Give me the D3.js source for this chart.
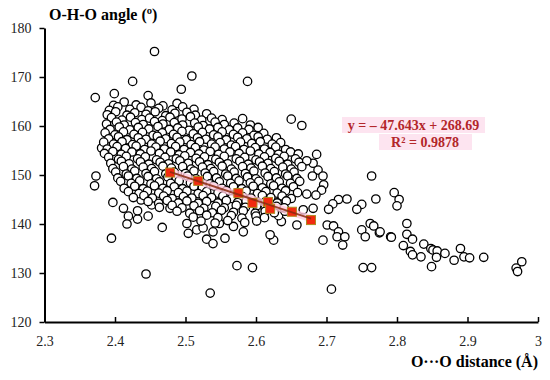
<!DOCTYPE html>
<html>
<head>
<meta charset="utf-8">
<script src="https://cdn.jsdelivr.net/npm/d3@7"></script>
<style>
  body { margin: 0; background: #fff; }
  svg { display: block; font-family: "Liberation Serif", "Times New Roman", serif; }
</style>
</head>
<body>
<svg class="chart" width="550" height="380"></svg>
<script>
// axis ticks
var xTicks = [2.3, 2.4, 2.5, 2.6, 2.7, 2.8, 2.9, 3];
var yTicks = [120, 130, 140, 150, 160, 170, 180];

// scattered points: [O...O distance, O-H-O angle]
var outliers = [
  [2.456,175.2],[2.509,170.2],[2.425,169.1],[2.588,169.1],[2.494,167.5],[2.372,165.8],[2.399,166.6],[2.447,166.2],
  [2.650,161.4],[2.665,160.1],[2.686,154.2],[2.681,152.4],[2.688,151],[2.680,149.8],[2.695,149.8],[2.696,148],[2.693,146.9],[2.685,145.9],[2.672,146.1],
  [2.764,149.8],[2.770,145.1],[2.717,145],[2.729,145.1],[2.709,144.1],[2.703,143],[2.750,144],[2.743,143],[2.681,143.2],[2.667,142.9],
  [2.701,139.8],[2.710,139.6],[2.717,138.4],[2.715,137.4],[2.726,137.4],[2.723,135.7],[2.695,136.7],[2.750,138.8],[2.755,137.4],[2.762,140.1],[2.767,139.6],[2.775,138.2],[2.791,137.4],
  [2.796,146.4],[2.803,145],[2.800,143.7],[2.814,140.1],[2.776,138.4],[2.814,137.9],[2.792,137.3],[2.822,136.9],[2.809,135.6],[2.838,135.9],[2.819,134.4],[2.822,133.7],[2.834,133.3],
  [2.848,135],[2.851,134.7],[2.857,134.5],[2.868,134],[2.856,133.2],[2.849,131.3],[2.890,135],[2.881,132.6],[2.895,133.3],[2.903,133.1],[2.923,133.2],[2.977,132.3],[2.969,131],[2.971,130.3],
  [2.752,131.1],[2.764,131.1],[2.707,126.7],[2.535,125.9],[2.444,129.8],[2.395,137.1],[2.573,131.5],[2.595,131.1],[2.625,136.7],
  [2.373,149.8],[2.371,147.8],[2.381,155.5],[2.397,144.4],[2.412,143.2],[2.419,141.6],[2.417,140],[2.432,141],[2.432,142.7],[2.437,144.9],[2.447,141.6],[2.467,139.3],[2.452,143.9],[2.478,143.2],
  [2.502,140.1],[2.504,138.1],[2.530,136.9],[2.539,136],[2.516,138.8],[2.525,139.2],[2.539,138.4],[2.556,137.1],[2.582,138.4],[2.568,139.5],[2.548,140.1],
  [2.636,140.5],[2.658,139.8],[2.620,137.8],[2.632,141.7],[2.641,142.6]
];

var cluster = [
  [2.398,164.2],[2.413,164.9],[2.430,164.3],[2.451,164.7],[2.468,164.1],[2.488,164.6],
  [2.392,163.2],[2.404,163.9],[2.421,163.4],[2.437,163.8],[2.447,163.1],[2.462,163.6],[2.481,163.3],[2.496,163.9],[2.512,163.4],
  [2.389,162.3],[2.401,162.9],[2.417,162.2],[2.428,162.7],[2.444,162.4],[2.457,162.9],[2.472,162.1],[2.485,162.6],[2.502,162.8],[2.514,162.2],[2.530,162.5],
  [2.395,161.7],[2.410,161.2],[2.422,161.8],[2.438,161.3],[2.449,161.6],[2.467,161.1],[2.478,161.8],[2.495,161.4],[2.507,161.9],[2.523,161.2],[2.537,161.6],[2.552,161.3],[2.581,161.5],
  [2.388,160.4],[2.402,160.8],[2.413,160.2],[2.429,160.7],[2.440,160.3],[2.456,160.9],[2.468,160.4],[2.484,160.7],[2.496,160.2],[2.513,160.6],[2.525,160.1],[2.542,160.8],[2.555,160.3],[2.569,160.6],[2.592,160.2],
  [2.393,159.3],[2.406,159.8],[2.421,159.2],[2.433,159.7],[2.448,159.4],[2.461,159.9],[2.477,159.3],[2.489,159.6],[2.505,159.1],[2.518,159.8],[2.534,159.4],[2.546,159.7],[2.562,159.2],[2.574,159.6],[2.590,159.3],[2.603,159.7],
  [2.386,158.6],[2.400,158.2],[2.412,158.8],[2.427,158.3],[2.439,158.7],[2.454,158.1],[2.467,158.6],[2.483,158.3],[2.495,158.9],[2.511,158.4],[2.524,158.7],[2.540,158.2],[2.552,158.8],[2.568,158.3],[2.581,158.6],[2.597,158.1],[2.611,158.5],
  [2.391,157.4],[2.405,157.8],[2.417,157.2],[2.433,157.6],[2.444,157.3],[2.460,157.9],[2.472,157.4],[2.488,157.7],[2.501,157.2],[2.517,157.6],[2.529,157.3],[2.546,157.8],[2.558,157.2],[2.574,157.7],[2.587,157.4],[2.603,157.8],[2.616,157.3],[2.629,157.6],
  [2.384,156.7],[2.398,156.3],[2.410,156.8],[2.425,156.2],[2.437,156.6],[2.452,156.3],[2.464,156.9],[2.480,156.4],[2.492,156.7],[2.508,156.2],[2.520,156.8],[2.537,156.3],[2.549,156.6],[2.565,156.1],[2.578,156.7],[2.594,156.4],[2.606,156.8],[2.623,156.3],[2.635,156.6],
  [2.389,155.3],[2.403,155.8],[2.415,155.4],[2.430,155.9],[2.442,155.2],[2.458,155.7],[2.470,155.3],[2.486,155.8],[2.498,155.2],[2.514,155.6],[2.526,155.1],[2.542,155.7],[2.555,155.3],[2.571,155.8],[2.583,155.2],[2.599,155.6],[2.612,155.3],[2.628,155.7],[2.642,155.2],
  [2.385,154.4],[2.397,154.8],[2.409,154.2],[2.424,154.7],[2.436,154.3],[2.451,154.9],[2.463,154.4],[2.479,154.7],[2.491,154.1],[2.507,154.6],[2.519,154.3],[2.535,154.8],[2.547,154.2],[2.563,154.7],[2.576,154.4],[2.592,154.9],[2.604,154.3],[2.620,154.6],[2.632,154.2],[2.649,154.7],[2.660,154.3],
  [2.391,153.6],[2.405,153.2],[2.416,153.8],[2.432,153.3],[2.443,153.7],[2.459,153.1],[2.471,153.6],[2.487,153.3],[2.499,153.9],[2.515,153.4],[2.527,153.7],[2.543,153.2],[2.555,153.8],[2.572,153.3],[2.584,153.6],[2.600,153.1],[2.612,153.7],[2.628,153.4],[2.640,153.8],[2.656,153.3],
  [2.394,152.4],[2.409,152.8],[2.420,152.3],[2.436,152.7],[2.448,152.2],[2.464,152.6],[2.476,152.3],[2.492,152.9],[2.504,152.4],[2.520,152.7],[2.532,152.1],[2.548,152.6],[2.560,152.3],[2.577,152.8],[2.589,152.2],[2.605,152.7],[2.617,152.4],[2.633,152.8],[2.645,152.2],[2.661,152.6],[2.672,152.9],
  [2.397,151.3],[2.412,151.7],[2.424,151.2],[2.440,151.6],[2.452,151.3],[2.468,151.8],[2.480,151.4],[2.496,151.7],[2.508,151.2],[2.524,151.6],[2.536,151.3],[2.552,151.8],[2.565,151.2],[2.581,151.7],[2.593,151.4],[2.609,151.8],[2.621,151.3],[2.638,151.6],[2.650,151.2],[2.665,151.7],
  [2.401,150.6],[2.416,150.2],[2.428,150.8],[2.444,150.3],[2.456,150.7],[2.472,150.2],[2.484,150.6],[2.500,150.3],[2.512,150.8],[2.528,150.4],[2.540,150.7],[2.557,150.2],[2.569,150.6],[2.585,150.3],[2.597,150.8],[2.613,150.4],[2.626,150.7],[2.642,150.2],[2.654,150.6],
  [2.404,149.4],[2.419,149.8],[2.431,149.3],[2.447,149.7],[2.459,149.2],[2.475,149.6],[2.487,149.3],[2.503,149.8],[2.515,149.2],[2.531,149.7],[2.544,149.4],[2.560,149.8],[2.572,149.3],[2.588,149.6],[2.600,149.2],[2.617,149.7],[2.629,149.4],[2.645,149.8],[2.658,149.3],
  [2.408,148.7],[2.423,148.3],[2.435,148.8],[2.451,148.2],[2.463,148.6],[2.479,148.3],[2.491,148.8],[2.507,148.4],[2.519,148.7],[2.535,148.2],[2.548,148.6],[2.564,148.3],[2.576,148.8],[2.592,148.4],[2.604,148.7],[2.621,148.2],[2.633,148.6],[2.649,148.3],[2.662,148.7],
  [2.413,147.3],[2.428,147.7],[2.440,147.2],[2.456,147.8],[2.468,147.3],[2.484,147.6],[2.496,147.2],[2.512,147.7],[2.524,147.4],[2.540,147.8],[2.552,147.3],[2.568,147.6],[2.580,147.2],[2.596,147.7],[2.609,147.4],[2.625,147.8],[2.637,147.3],[2.653,147.6],
  [2.419,146.6],[2.434,146.2],[2.446,146.7],[2.462,146.3],[2.474,146.8],[2.490,146.4],[2.502,146.7],[2.518,146.2],[2.530,146.6],[2.546,146.3],[2.558,146.8],[2.574,146.4],[2.586,146.7],[2.602,146.2],[2.614,146.6],[2.630,146.3],[2.642,146.8],[2.659,146.4],
  [2.426,145.4],[2.441,145.8],[2.453,145.3],[2.469,145.7],[2.481,145.2],[2.497,145.6],[2.509,145.3],[2.525,145.8],[2.537,145.4],[2.553,145.7],[2.565,145.2],[2.581,145.6],[2.593,145.3],[2.609,145.8],[2.621,145.4],[2.637,145.7],[2.650,145.2],
  [2.447,144.6],[2.462,144.2],[2.474,144.8],[2.490,144.3],[2.502,144.7],[2.518,144.2],[2.530,144.6],[2.546,144.3],[2.558,144.8],[2.574,144.4],[2.586,144.7],[2.602,144.2],[2.614,144.6],[2.630,144.3],[2.643,144.7],
  [2.463,143.4],[2.481,143.8],[2.495,143.3],[2.512,143.7],[2.526,143.2],[2.543,143.6],[2.555,143.3],[2.572,143.8],[2.585,143.4],[2.601,143.7],[2.613,143.2],[2.629,143.6],[2.640,143.3],
  [2.488,142.6],[2.506,142.2],[2.520,142.7],[2.538,142.3],[2.551,142.8],[2.568,142.4],[2.582,142.7],[2.599,142.2],[2.613,142.6],[2.626,142.3],
  [2.511,141.4],[2.530,141.8],[2.546,141.3],[2.565,141.7],[2.580,141.2],[2.600,141.6],[2.612,141.3],
  [2.522,140.6],[2.542,140.2],[2.560,140.7],[2.584,140.3],[2.601,140.6]
];

// binned averages (red squares)
var binDist = [2.478, 2.518, 2.575, 2.595, 2.617, 2.620, 2.651, 2.678];
var binAngle = [150.5, 148.8, 146.3, 144.3, 144.5, 143.1, 142.5, 140.8];
var slope = -47.643, intercept = 268.69;

var svg = d3.select("svg.chart");
var x = d3.scaleLinear().domain([2.3, 3]).range([44.5, 538]);
var y = d3.scaleLinear().domain([120, 180]).range([322, 28]);

// points
svg.append("g").selectAll("circle")
  .data(outliers.concat(cluster))
  .enter().append("circle")
  .attr("cx", function(d) { return x(d[0]); })
  .attr("cy", function(d) { return y(d[1]); })
  .attr("r", 4.2)
  .attr("fill", "#fff")
  .attr("stroke", "#000")
  .attr("stroke-width", 1.3);

// axes
var xAxis = svg.append("g").attr("transform", "translate(0,322)")
  .call(d3.axisBottom(x).tickValues(xTicks).tickSizeInner(-5).tickSizeOuter(0).tickPadding(14)
    .tickFormat(d3.format("")));
var yAxis = svg.append("g").attr("transform", "translate(44.5,0)")
  .call(d3.axisLeft(y).tickValues(yTicks).tickSizeInner(5).tickSizeOuter(0).tickPadding(8));
[xAxis, yAxis].forEach(function(a) {
  a.select(".domain").attr("stroke", "#000").attr("stroke-width", 2);
  a.selectAll(".tick line").attr("stroke", "#000").attr("stroke-width", 1.5);
  a.selectAll(".tick text").attr("font-family", "Liberation Serif, serif").attr("font-size", 14).attr("fill", "#222");
});

// trend
var xs = d3.extent(binDist);
var trend = xs.map(function(v) { return [v, slope * v + intercept]; });
var lineGen = d3.line().x(function(d) { return x(d[0]); }).y(function(d) { return y(d[1]); });
svg.append("path").datum(trend).attr("d", lineGen)
  .attr("stroke", "#ffc8dc").attr("stroke-width", 7).attr("fill", "none").attr("opacity", 0.8);
svg.append("g").selectAll("rect")
  .data(d3.zip(binDist, binAngle))
  .enter().append("rect")
  .attr("x", function(d) { return x(d[0]) - 4.5; })
  .attr("y", function(d) { return y(d[1]) - 4.5; })
  .attr("width", 9).attr("height", 9)
  .attr("fill", "#f22a10").attr("stroke", "#b08a20").attr("stroke-width", 1);
svg.append("path").datum(trend).attr("d", lineGen)
  .attr("stroke", "#8b2a10").attr("stroke-width", 2).attr("fill", "none").attr("opacity", 0.85);

// equation label
var eq = svg.append("g").attr("font-weight", "bold").attr("font-size", 14).attr("fill", "#b3262a");
eq.append("rect").attr("x", 342).attr("y", 117).attr("width", 143).attr("height", 16).attr("fill", "#fde4f0");
eq.append("rect").attr("x", 379).attr("y", 134).attr("width", 93).attr("height", 16).attr("fill", "#fde4f0");
eq.append("text").attr("x", 413.5).attr("y", 130).attr("text-anchor", "middle").text("y = \u2013 47.643x + 268.69");
eq.append("text").attr("x", 425).attr("y", 147).attr("text-anchor", "middle").text("R\u00b2 = 0.9878");

// axis titles
svg.append("text").attr("x", 49).attr("y", 20).attr("font-weight", "bold").attr("font-size", 16)
  .text("O-H-O angle (\u00ba)");
svg.append("text").attr("x", 538).attr("y", 367).attr("text-anchor", "end").attr("font-weight", "bold").attr("font-size", 16)
  .text("O\u00b7\u00b7\u00b7O distance (\u00c5)");
</script>
</body>
</html>
